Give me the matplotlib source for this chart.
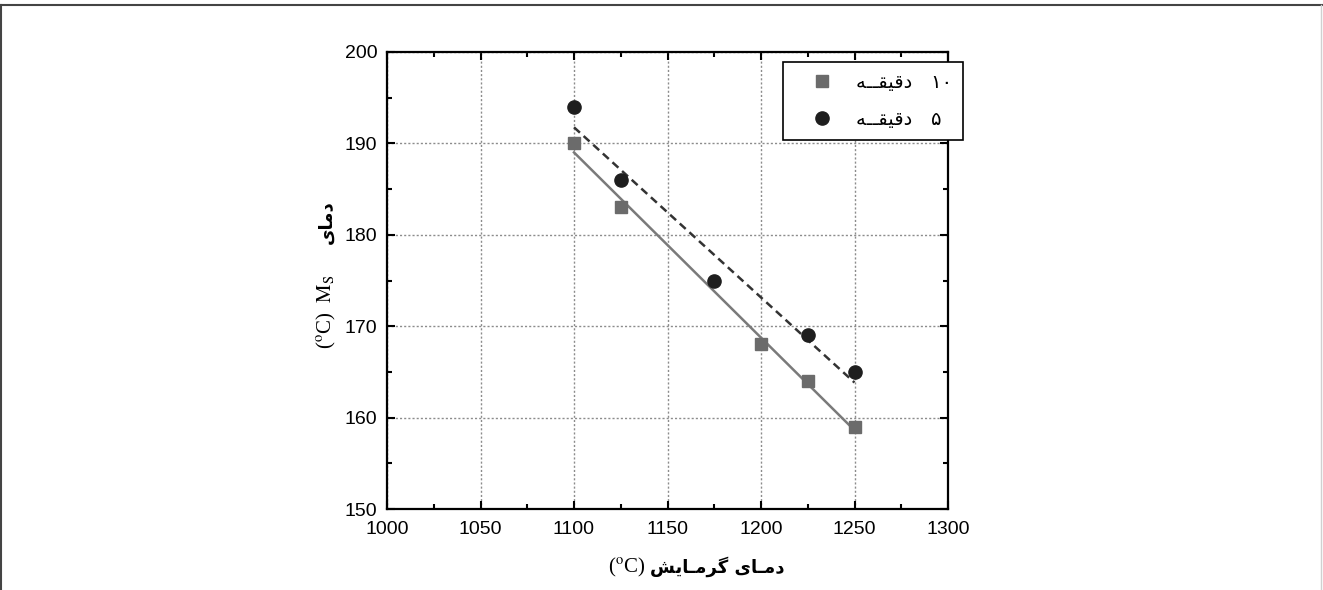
import numpy as np
import matplotlib.pyplot as plt
from matplotlib.lines import Line2D
from matplotlib.ticker import MultipleLocator

# 10 min and 5 min holding time
t10 = [1100, 1125, 1200, 1225, 1250]
ms10 = [190, 183, 168, 164, 159]
t5 = [1100, 1125, 1175, 1225, 1250]
ms5 = [194, 186, 175, 169, 165]

# persian text, already shaped (presentation forms) and in visual order
daqiqe = '\uFEEA\u0640\u0640\uFED8\uFEF4\uFED7\uFEA9'
lab10 = daqiqe + '   \u06F1\u06F0'
lab5 = daqiqe + '   \u06F5'
damay = '\uFEEF\uFE8E\u0640\uFEE3\uFEA9'
garmayesh = '\uFEB6\uFEF3\uFE8E\u0640\uFEE3\uFEAE\uFB94'
damay_y = '\uFEEF\uFE8E\uFEE3\uFEA9'

W, H = 1323, 590
plt.rcParams['font.family'] = ['Liberation Sans', 'DejaVu Sans']
plt.rcParams['mathtext.fontset'] = 'stix'

def px(x, y):
    return x / W, 1 - y / H

fig = plt.figure(figsize=(W / 100, H / 100), dpi=100)
ax = fig.add_axes([387 / W, 1 - 509 / H, (948 - 387) / W, (509 - 52) / H])

h10, = ax.plot(t10, ms10, 's', color='#6b6b6b', ms=9, zorder=4)
h5, = ax.plot(t5, ms5, 'o', color='#1e1e1e', ms=9.5, zorder=4)

xx = np.array([1100, 1250])
p10 = np.polyfit(t10, ms10, 1)
p5 = np.polyfit(t5, ms5, 1)
ax.plot(xx, np.polyval(p10, xx), '-', color='#7a7a7a', lw=1.8, zorder=3)
ax.plot(xx, np.polyval(p5, xx), '--', color='#333333', lw=1.8, dashes=(3.2, 2), zorder=3)

ax.set_xlim(1000, 1300)
ax.set_ylim(150, 200)
ax.xaxis.set_major_locator(MultipleLocator(50))
ax.xaxis.set_minor_locator(MultipleLocator(25))
ax.yaxis.set_major_locator(MultipleLocator(10))
ax.yaxis.set_minor_locator(MultipleLocator(5))
ax.grid(True, which='major', color='#8c8c8c', ls=(0, (1.5, 1.5)), lw=1)
ax.tick_params(which='both', direction='in', top=True, right=True, width=1.5, labelsize=14, pad=7)
ax.tick_params(axis='x', which='both', pad=9)
ax.tick_params(which='major', length=6)
ax.tick_params(which='minor', length=3.5)
for s in ax.spines.values():
    s.set_linewidth(1.6)

leg = ax.legend([h10, h5], [lab10, lab5], loc='upper left', bbox_to_anchor=px(783, 62),
                bbox_transform=fig.transFigure, borderaxespad=0, numpoints=1,
                fancybox=False, framealpha=1, edgecolor='black',
                prop={'family': 'DejaVu Sans', 'size': 14},
                borderpad=0.55, handlelength=2.9, handletextpad=0.3, labelspacing=0.95)
leg.get_frame().set_linewidth(1.2)

# axis labels, pieced together
fig.text(*px(645, 567), r'($^{\rm o}$C)', family='Liberation Serif', size=15, ha='right', va='center')
fig.text(*px(650, 567), garmayesh + ' ' + damay, family='DejaVu Sans', weight='bold', size=13, ha='left', va='center')
fig.text(*px(326, 312), r'($^{\rm o}$C)  $\mathrm{M_S}$', family='Liberation Serif', size=15,
         rotation=90, ha='center', va='center')
fig.text(*px(327, 222), damay_y, family='DejaVu Sans', weight='bold', size=13,
         rotation=90, ha='center', va='center')

# frame of the original image
fig.add_artist(Line2D([0, 1], [px(0, 5)[1]] * 2, color='#444444', lw=1.5))
fig.add_artist(Line2D([px(1, 0)[0]] * 2, [0, px(0, 5)[1]], color='#444444', lw=1.5))
fig.add_artist(Line2D([px(1321, 0)[0]] * 2, [0, px(0, 5)[1]], color='#d0d0d0', lw=1))

fig.savefig('out.png', dpi=100)
